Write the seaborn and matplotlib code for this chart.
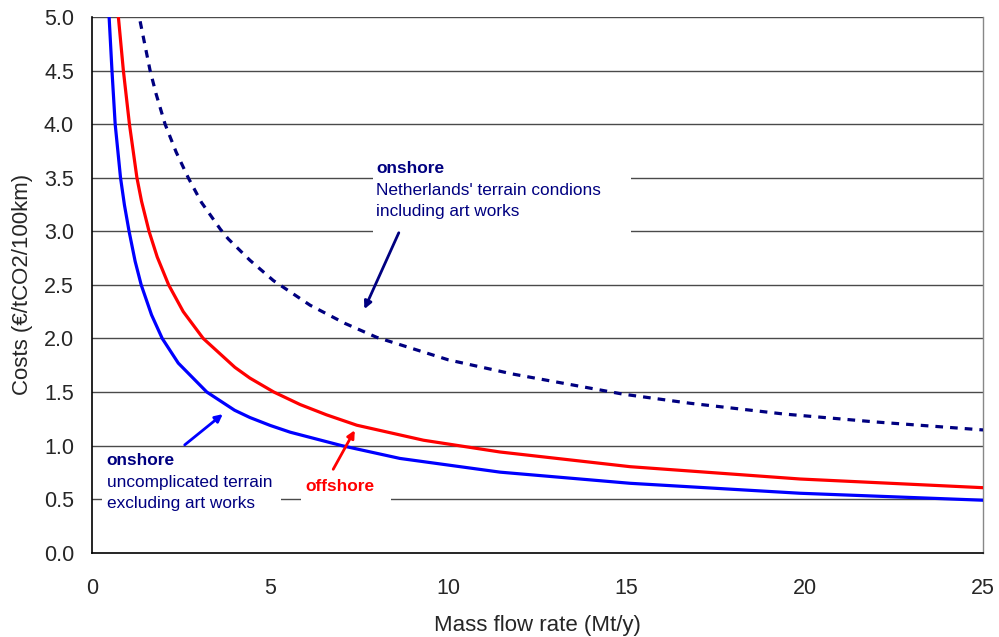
import matplotlib
matplotlib.use("Agg")
import matplotlib.pyplot as plt
import seaborn as sns
import pandas as pd

# ---- data ----
blue_x = [0.48, 0.56, 0.65, 0.80, 0.91, 1.04, 1.21, 1.38, 1.67, 1.97, 2.42, 3.22, 4.0, 4.43,
          5.0, 5.56, 7.0, 8.64, 11.45, 15.1, 19.87, 25]
blue_y = [5.0, 4.5, 4.0, 3.5, 3.245, 3.0, 2.72, 2.5, 2.22, 2.0, 1.77, 1.5, 1.33, 1.262,
          1.188, 1.125, 1.0, 0.88, 0.752, 0.648, 0.555, 0.49]

red_x = [0.74, 0.88, 1.05, 1.26, 1.39, 1.6, 1.83, 2.15, 2.56, 3.12, 4.01, 4.43, 5.1, 5.84,
         6.58, 7.43, 9.3, 11.45, 15.1, 19.87, 25]
red_y = [5.0, 4.5, 4.0, 3.5, 3.28, 3.0, 2.76, 2.5, 2.25, 2.0, 1.73, 1.63, 1.5, 1.383,
         1.287, 1.19, 1.05, 0.94, 0.803, 0.688, 0.607]

nl_x = [1.35, 1.63, 1.80, 2.05, 2.36, 2.70, 3.07, 3.6, 3.82, 4.43, 5.09, 6.12, 7.1, 7.99,
        10.0, 11.8, 14.9, 16.78, 19.4, 22.0, 25]
nl_y = [4.96, 4.5, 4.28, 4.0, 3.74, 3.5, 3.27, 3.02, 2.93, 2.73, 2.54, 2.31, 2.14, 2.01,
        1.80, 1.668, 1.48, 1.395, 1.295, 1.22, 1.146]

x_ticks = [0, 5, 10, 15, 20, 25]
y_ticks = [0.0, 0.5, 1.0, 1.5, 2.0, 2.5, 3.0, 3.5, 4.0, 4.5, 5.0]

x_label = "Mass flow rate (Mt/y)"
y_label = "Costs (\u20ac/tCO2/100km)"

sns.set_style("white")
plt.rcParams['font.family'] = ['Liberation Sans', 'DejaVu Sans']

fig = plt.figure(figsize=(9.99, 6.37), dpi=100)
ax = fig.add_axes([0.0921, 0.1323, 0.984 - 0.0921, 0.9733 - 0.1323])

df_b = pd.DataFrame({"x": blue_x, "y": blue_y})
df_r = pd.DataFrame({"x": red_x, "y": red_y})
df_n = pd.DataFrame({"x": nl_x, "y": nl_y})

for yv in y_ticks[1:]:
    ax.axhline(yv, color="#4a4a4a", lw=1.0, zorder=1)

sns.lineplot(data=df_b, x="x", y="y", ax=ax, color="#0000FF", lw=2.3, sort=False, estimator=None, zorder=3)
sns.lineplot(data=df_r, x="x", y="y", ax=ax, color="#FF0000", lw=2.3, sort=False, estimator=None, zorder=3)
sns.lineplot(data=df_n, x="x", y="y", ax=ax, color="#000080", lw=2.3, sort=False, estimator=None, zorder=3)
for ln in ax.lines[-3:]:
    ln.set_solid_joinstyle("round")
ax.lines[-1].set_dashes((2.4, 2.2))

ax.set_xlim(0, 25)
ax.set_ylim(0, 5)
ax.set_xticks(x_ticks)
ax.set_yticks(y_ticks)
ax.set_xticklabels([str(v) for v in x_ticks], fontsize=15.5)
ax.set_yticklabels([f"{v:.1f}" for v in y_ticks], fontsize=15.5)
ax.tick_params(axis="both", direction="out", length=6, width=1, color="black")
ax.tick_params(axis="y", pad=7)
ax.tick_params(axis="x", pad=12)
ax.set_xlabel(x_label, fontsize=16, labelpad=12)
ax.set_ylabel(y_label, fontsize=16, labelpad=8)

for s in ["left", "bottom"]:
    ax.spines[s].set_color("black")
    ax.spines[s].set_linewidth(1.2)
ax.spines["right"].set_color("#888888")
ax.spines["right"].set_linewidth(1.0)
ax.spines["top"].set_visible(False)

navy = "#000080"
fs = 12.4

# Netherlands annotation
ax.text(7.98, 3.54, "onshore", color=navy, fontsize=fs, fontweight="bold",
        ha="left", va="baseline", zorder=4)
ax.text(7.98, 3.34, "Netherlands' terrain condions", color=navy, fontsize=fs,
        ha="left", va="baseline", zorder=4)
ax.text(7.98, 3.145, "including art works", color=navy, fontsize=fs,
        ha="left", va="baseline", zorder=4)
ax.add_patch(plt.Rectangle((7.88, 2.93), 15.12 - 7.88, 3.72 - 2.93, facecolor="white",
                           edgecolor="none", zorder=2))
ax.annotate("", xy=(7.61, 2.25), xytext=(8.64, 3.01),
            arrowprops=dict(arrowstyle="-|>", color=navy, lw=2, mutation_scale=11), zorder=5)

# onshore uncomplicated annotation
ax.text(0.41, 0.817, "onshore", color=navy, fontsize=fs, fontweight="bold",
        ha="left", va="baseline", zorder=4)
ax.text(0.41, 0.615, "uncomplicated terrain", color=navy, fontsize=fs,
        ha="left", va="baseline", zorder=4)
ax.text(0.41, 0.42, "excluding art works", color=navy, fontsize=fs,
        ha="left", va="baseline", zorder=4)
ax.add_patch(plt.Rectangle((0.28, 0.35), 5.30 - 0.28, 0.97 - 0.35, facecolor="white",
                           edgecolor="none", zorder=2))
ax.annotate("", xy=(3.73, 1.31), xytext=(2.54, 0.99),
            arrowprops=dict(arrowstyle="-|>", color="#0000FF", lw=2, mutation_scale=11), zorder=5)

# offshore annotation
ax.text(5.98, 0.58, "offshore", color="#FF0000", fontsize=fs, fontweight="bold",
        ha="left", va="baseline", zorder=4)
ax.add_patch(plt.Rectangle((5.87, 0.44), 8.39 - 5.87, 0.78 - 0.44, facecolor="white",
                           edgecolor="none", zorder=2))
ax.annotate("", xy=(7.41, 1.166), xytext=(6.73, 0.756),
            arrowprops=dict(arrowstyle="-|>", color="#FF0000", lw=2, mutation_scale=11), zorder=5)

fig.savefig("out.png", dpi=100)
